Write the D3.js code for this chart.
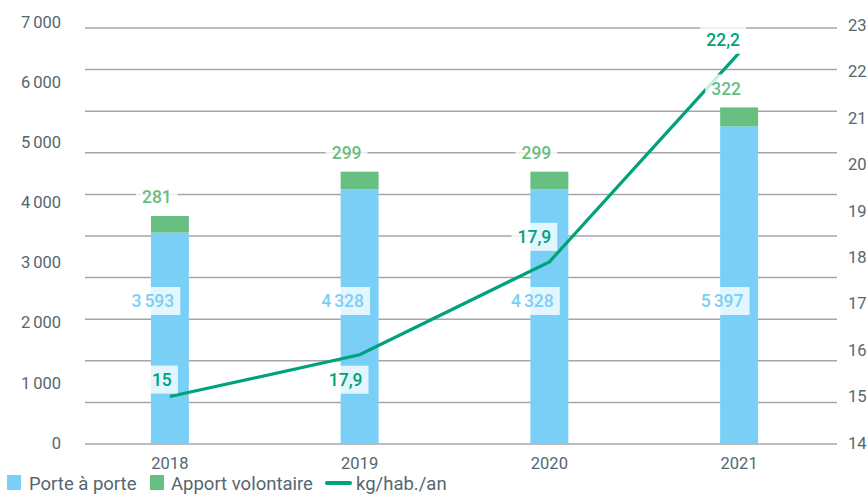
<!doctype html>
<html>
<head>
<meta charset="utf-8">
<style>
  body { margin: 0; background: #fff; }
  svg { font-family: Roboto, "Noto Sans", sans-serif; }
  .tick-label { fill: #546670; font-size: 16.5px; }
  .grid { stroke: #a6a6a6; stroke-width: 1.5; }
</style>
<script src="https://d3js.org/d3.v7.min.js"></script>
</head>
<body>
<svg width="868" height="497"></svg>
<script>
// data
var years = ["2018", "2019", "2020", "2021"];
var porteAPorte = [3593, 4328, 4328, 5397];
var apportVolontaire = [281, 299, 299, 322];
var kgHabAn = [15, 15.9, 17.9, 22.4];
var kgLabels = ["15", "17,9", "17,9", "22,2"];
var leftTicks = [0, 1000, 2000, 3000, 4000, 5000, 6000, 7000];
var rightTicks = [14, 15, 16, 17, 18, 19, 20, 21, 22, 23];

var blue = "#79cff5", green = "#68bf82", lineGreen = "#00a27c", axisGrey = "#546670";

var svg = d3.select("svg");

var x = d3.scaleBand().domain(years).range([75, 834]).paddingInner(0.8).paddingOuter(0.4);
var yL = d3.scaleLinear().domain([0, 7000]).range([444, 32]);
// the original's left labels sit on a slightly taller scale than its bars
var yLabel = d3.scaleLinear().domain([0, 7000]).range([443, 22]);
var yR = d3.scaleLinear().domain([14, 23]).range([443, 25]);
var yGrid = d3.scaleLinear().domain([0, 10]).range([444, 28]);

var fmt = function(v) { return d3.format(",")(v).replace(/,/g, "\u2006"); };
var cx = function(i) { return x(years[i]) + x.bandwidth() / 2; };

// gridlines (10 equal bands, as in the original)
svg.append("g").selectAll("line")
   .data(d3.range(0, 11))
   .enter().append("line")
   .attr("class", "grid")
   .attr("x1", 85).attr("x2", 837)
   .attr("y1", function(d) { return yGrid(d); })
   .attr("y2", function(d) { return yGrid(d); });

// left axis labels
svg.append("g").selectAll("text")
   .data(leftTicks)
   .enter().append("text")
   .attr("class", "tick-label")
   .attr("x", 61)
   .attr("y", function(d) { return yLabel(d); })
   .attr("dy", "0.35em")
   .attr("text-anchor", "end")
   .text(function(d) { return fmt(d); });

// right axis labels
svg.append("g").selectAll("text")
   .data(rightTicks)
   .enter().append("text")
   .attr("class", "tick-label")
   .attr("x", 848)
   .attr("y", function(d) { return yR(d); })
   .attr("dy", "0.35em")
   .text(function(d) { return d; });

// x axis labels
svg.append("g").selectAll("text")
   .data(years)
   .enter().append("text")
   .attr("class", "tick-label")
   .attr("x", function(d, i) { return cx(i); })
   .attr("y", 469)
   .attr("text-anchor", "middle")
   .text(function(d) { return d; });

// stacked bars
svg.append("g").selectAll("rect")
   .data(porteAPorte)
   .enter().append("rect")
   .attr("x", function(d, i) { return x(years[i]); })
   .attr("width", x.bandwidth())
   .attr("y", function(d) { return yL(d); })
   .attr("height", function(d) { return yL(0) - yL(d); })
   .attr("fill", blue);

svg.append("g").selectAll("rect")
   .data(apportVolontaire)
   .enter().append("rect")
   .attr("x", function(d, i) { return x(years[i]); })
   .attr("width", x.bandwidth())
   .attr("y", function(d, i) { return yL(porteAPorte[i] + d); })
   .attr("height", function(d) { return yL(0) - yL(d); })
   .attr("fill", green);

// line on the right axis
var line = d3.line()
   .x(function(d, i) { return cx(i); })
   .y(function(d) { return yR(d); });

svg.append("path")
   .datum(kgHabAn)
   .attr("d", line)
   .attr("fill", "none")
   .attr("stroke", lineGreen)
   .attr("stroke-width", 3.2);

// value labels with translucent white boxes
function boxLabel(tx, ty, txt, color) {
    var g = svg.append("g");
    var rect = g.append("rect").attr("fill", "#fff").attr("fill-opacity", 0.8);
    var t = g.append("text")
       .attr("x", tx).attr("y", ty)
       .attr("dy", "0.35em")
       .attr("text-anchor", "middle")
       .attr("font-size", "17.5px")
       .attr("font-weight", 500)
       .attr("fill", color)
       .text(txt);
    var b = t.node().getBBox();
    rect.attr("x", b.x - 6).attr("y", ty - 14)
        .attr("width", b.width + 12).attr("height", 28);
}

porteAPorte.forEach(function(d, i) {
    boxLabel(cx(i) - 17, yL(2430), fmt(d), blue);
});
apportVolontaire.forEach(function(d, i) {
    boxLabel(cx(i) - 13, yL(porteAPorte[i] + d) - 19, fmt(d), green);
});
var kgDx = [-8, -14, -15, -16], kgDy = [-17, 25, -25, -13];
kgHabAn.forEach(function(d, i) {
    boxLabel(cx(i) + kgDx[i], yR(d) + kgDy[i], kgLabels[i], lineGreen);
});

// legend
var legend = svg.append("g").attr("font-size", "18.5px").attr("fill", axisGrey);
legend.append("rect").attr("x", 7).attr("y", 475).attr("width", 14).attr("height", 15).attr("fill", blue);
legend.append("text").attr("x", 29).attr("y", 490).text("Porte à porte");
legend.append("rect").attr("x", 150).attr("y", 475).attr("width", 14).attr("height", 15).attr("fill", green);
legend.append("text").attr("x", 171).attr("y", 490).text("Apport volontaire");
legend.append("line").attr("x1", 327).attr("x2", 350).attr("y1", 483).attr("y2", 483)
      .attr("stroke", lineGreen).attr("stroke-width", 4).attr("stroke-linecap", "round");
legend.append("text").attr("x", 356).attr("y", 490).text("kg/hab./an");
</script>
</body>
</html>
